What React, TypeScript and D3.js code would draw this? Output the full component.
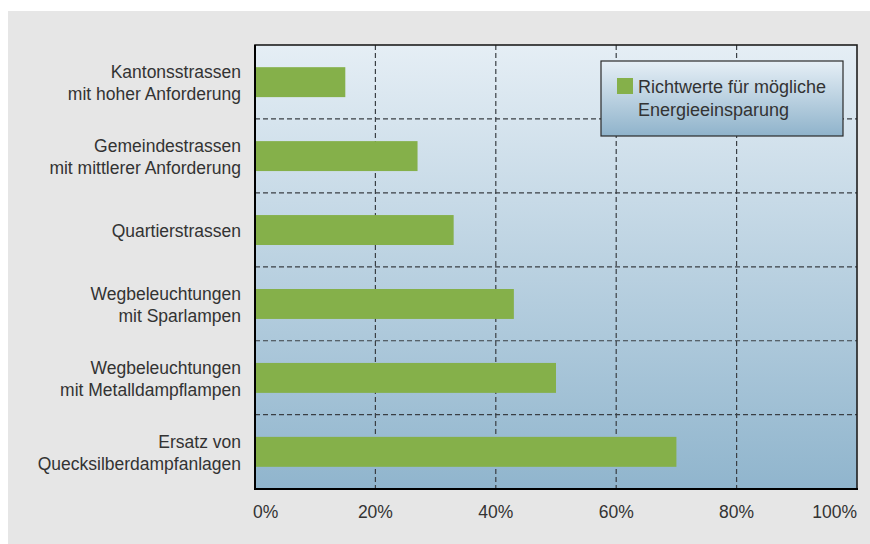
import React from "react";
import * as d3 from "d3";

// categories (each label split into lines) and values in %
const categories = [
  ["Kantonsstrassen", "mit hoher Anforderung"],
  ["Gemeindestrassen", "mit mittlerer Anforderung"],
  ["Quartierstrassen"],
  ["Wegbeleuchtungen", "mit Sparlampen"],
  ["Wegbeleuchtungen", "mit Metalldampflampen"],
  ["Ersatz von", "Quecksilberdampfanlagen"],
];
const savings = [15, 27, 33, 43, 50, 70];
const xTicks = [0, 20, 40, 60, 80, 100];
const legendLines = ["Richtwerte für mögliche", "Energieeinsparung"];

const W = 870;
const H = 544;
const plot = { left: 255, right: 857, top: 45, bottom: 489 };
const font = "'Liberation Sans', Arial, sans-serif";
const textColor = "#333";
const green = "#85b04a";

const App = () => {
  const x = d3.scaleLinear().domain([0, 100]).range([plot.left, plot.right]);
  const y = d3
    .scaleBand<number>()
    .domain(d3.range(categories.length))
    .range([plot.top, plot.bottom])
    .paddingInner(0.595)
    .paddingOuter(0.3);
  const step = y.step();
  const bandCenter = (i: number) => y(i)! + y.bandwidth() / 2;

  return (
    <div style={{ position: "absolute", left: 0, top: 0 }}>
      <svg width={W} height={H} style={{ display: "block" }}>
        <defs>
          <linearGradient id="plotBg" x1="0" y1="0" x2="0" y2="1">
            <stop offset="0%" stopColor="#e5eef5" />
            <stop offset="100%" stopColor="#90b5cd" />
          </linearGradient>
          <linearGradient id="legendBg" x1="0" y1="0" x2="0" y2="1">
            <stop offset="0%" stopColor="#e6eff6" />
            <stop offset="100%" stopColor="#8fb3cb" />
          </linearGradient>
        </defs>

        <rect x={8} y={11} width={W - 8} height={H - 11} fill="#e6e6e6" />

        <rect
          x={plot.left}
          y={plot.top}
          width={plot.right - plot.left}
          height={plot.bottom - plot.top}
          fill="url(#plotBg)"
        />

        {/* vertical grid */}
        {xTicks.slice(1, -1).map((t) => (
          <line
            key={"vx" + t}
            x1={x(t)}
            x2={x(t)}
            y1={plot.top}
            y2={plot.bottom}
            stroke="#3a3f44"
            strokeWidth={1.2}
            strokeDasharray="5 3"
          />
        ))}
        {/* horizontal grid between bands */}
        {d3.range(1, categories.length).map((i) => (
          <line
            key={"hy" + i}
            x1={plot.left}
            x2={plot.right}
            y1={plot.top + i * step}
            y2={plot.top + i * step}
            stroke="#3a3f44"
            strokeWidth={1.2}
            strokeDasharray="5 3"
          />
        ))}

        {/* bars */}
        {savings.map((v, i) => (
          <rect
            key={"bar" + i}
            x={x(0)}
            y={y(i)}
            width={x(v) - x(0)}
            height={y.bandwidth()}
            fill={green}
          />
        ))}

        {/* frame */}
        <rect
          x={plot.left}
          y={plot.top}
          width={plot.right - plot.left}
          height={plot.bottom - plot.top}
          fill="none"
          stroke="#1e1e1e"
          strokeWidth={1.6}
        />
        <line x1={plot.left} x2={plot.left} y1={plot.top} y2={plot.bottom + 1} stroke="#000" strokeWidth={2} />
        <line x1={plot.left - 1} x2={plot.right + 1} y1={plot.bottom} y2={plot.bottom} stroke="#000" strokeWidth={2} />

        {/* category labels */}
        {categories.map((lines, i) => {
          const c = bandCenter(i);
          const first = lines.length === 1 ? c + 7 : c - 4;
          return (
            <text
              key={"cat" + i}
              textAnchor="end"
              fontFamily={font}
              fontSize={17.5}
              fill={textColor}
            >
              {lines.map((l, j) => (
                <tspan key={j} x={241} y={first + j * 22}>
                  {l}
                </tspan>
              ))}
            </text>
          );
        })}

        {/* x tick labels */}
        {xTicks.map((t, i) => (
          <text
            key={"xt" + t}
            x={i === 0 ? x(t) - 2 : x(t)}
            y={518}
            textAnchor={i === 0 ? "start" : i === xTicks.length - 1 ? "end" : "middle"}
            fontFamily={font}
            fontSize={17.5}
            fill={textColor}
          >
            {t + "%"}
          </text>
        ))}

        {/* legend */}
        <g>
          <rect x={601} y={61} width={242} height={75} fill="url(#legendBg)" stroke="#2a2a2a" strokeWidth={1.2} />
          <rect x={617} y={78} width={16} height={16} fill={green} />
          {legendLines.map((l, j) => (
            <text
              key={"lg" + j}
              x={638}
              y={93 + j * 23}
              fontFamily={font}
              fontSize={18}
              fill={textColor}
            >
              {l}
            </text>
          ))}
        </g>
      </svg>
    </div>
  );
};

export default App;
